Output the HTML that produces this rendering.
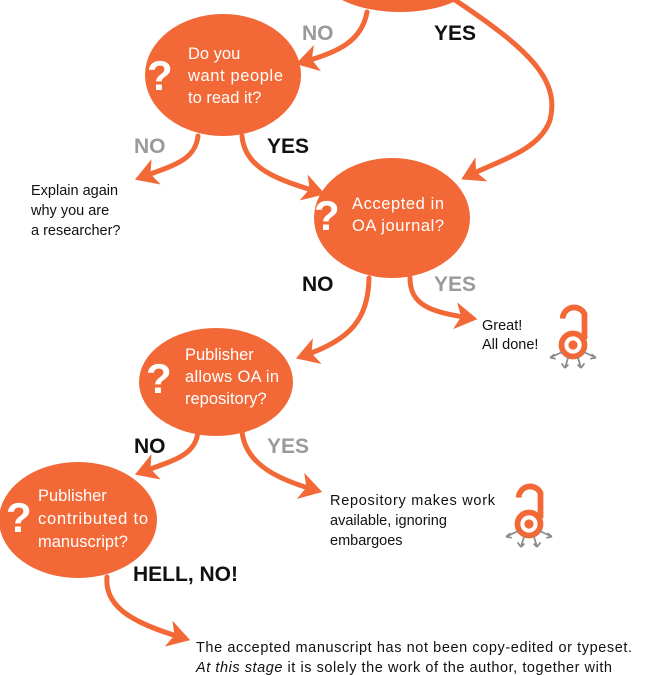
<!DOCTYPE html>
<html><head><meta charset="utf-8"><style>
html,body{margin:0;padding:0;background:#fff;}
svg{display:block;}
.q{font-family:"Liberation Sans",sans-serif;font-weight:bold;fill:#fff;font-size:42px;}
.w{font-family:"Liberation Sans",sans-serif;fill:#fff;font-size:16.5px;}
.t{font-family:"Liberation Sans",sans-serif;fill:#111;font-size:14.5px;}
.lb{font-family:"Liberation Sans",sans-serif;font-weight:bold;font-size:21px;}
.c{fill:none;stroke:#F26836;stroke-width:5;stroke-linecap:round;}
</style></head><body>
<svg width="650" height="675" viewBox="0 0 650 675" xmlns="http://www.w3.org/2000/svg">
<defs>
<marker id="a" markerWidth="6" markerHeight="6" refX="3" refY="3" orient="auto" markerUnits="strokeWidth">
<path d="M0,0.3 L4.5,3 L0,5.7 L1.2,3 Z" fill="#F26836"/>
</marker>
<g id="oa">
<path d="M-9,-23 A10,10 0 0 1 10,-27 L10,-5" fill="none" stroke="#F26836" stroke-width="5"/>
<circle cx="0" cy="0" r="10" fill="none" stroke="#F26836" stroke-width="5"/>
<circle cx="0" cy="0" r="4" fill="#F26836"/>
<g stroke="#8a8a8a" stroke-width="1.5" fill="none">
<path d="M-9,6 L-20,11 M-20,11 l4,-3 M-20,11 l5,1"/>
<path d="M9,6 L20,11 M20,11 l-4,-3 M20,11 l-5,1"/>
<path d="M-4,10 L-7,20 M-7,20 l-3,-4 M-7,20 l3,-3"/>
<path d="M4,10 L7,20 M7,20 l3,-4 M7,20 l-3,-3"/>
</g>
</g>
</defs>

<ellipse cx="400" cy="-22" rx="76" ry="34" fill="#F26836"/>
<ellipse cx="223" cy="75" rx="78" ry="61" fill="#F26836"/>
<ellipse cx="392" cy="218" rx="78" ry="60" fill="#F26836"/>
<ellipse cx="216" cy="382" rx="77" ry="54" fill="#F26836"/>
<ellipse cx="78" cy="520" rx="79" ry="58" fill="#F26836"/>

<path class="c" d="M367,12 C362,40 340,52 303,62" marker-end="url(#a)"/>
<path class="c" d="M455,0 C530,50 560,80 550,120 C540,150 500,160 468,176" marker-end="url(#a)"/>
<path class="c" d="M198,136 C195,160 175,165 142,177" marker-end="url(#a)"/>
<path class="c" d="M242,136 C245,170 280,180 318,192" marker-end="url(#a)"/>
<path class="c" d="M369,278 C368,320 350,340 303,356" marker-end="url(#a)"/>
<path class="c" d="M410,278 C410,305 430,312 470,318" marker-end="url(#a)"/>
<path class="c" d="M198,431 C196,455 175,460 142,472" marker-end="url(#a)"/>
<path class="c" d="M242,431 C245,465 280,480 315,490" marker-end="url(#a)"/>
<path class="c" d="M107,577 C104,610 140,625 183,638" marker-end="url(#a)"/>

<text class="q" x="147" y="90">?</text>
<text class="w" x="188" y="59">Do you</text>
<text class="w" x="188" y="81" textLength="95">want people</text>
<text class="w" x="188" y="103">to read it?</text>

<text class="q" x="314" y="230">?</text>
<text class="w" x="352" y="209" textLength="92">Accepted in</text>
<text class="w" x="352" y="231" textLength="92">OA journal?</text>

<text class="q" x="146" y="393">?</text>
<text class="w" x="185" y="360">Publisher</text>
<text class="w" x="185" y="382" textLength="94">allows OA in</text>
<text class="w" x="185" y="404">repository?</text>

<text class="q" x="6" y="532">?</text>
<text class="w" x="38" y="501">Publisher</text>
<text class="w" x="38" y="524" textLength="110">contributed to</text>
<text class="w" x="38" y="547">manuscript?</text>

<text class="lb" x="302" y="40" fill="#9a9a9a">NO</text>
<text class="lb" x="434" y="40" fill="#111">YES</text>
<text class="lb" x="134" y="153" fill="#9a9a9a">NO</text>
<text class="lb" x="267" y="153" fill="#111">YES</text>
<text class="lb" x="302" y="291" fill="#111">NO</text>
<text class="lb" x="434" y="291" fill="#9a9a9a">YES</text>
<text class="lb" x="134" y="453" fill="#111">NO</text>
<text class="lb" x="267" y="453" fill="#9a9a9a">YES</text>
<text class="lb" x="133" y="581" fill="#111">HELL, NO!</text>

<text class="t" x="31" y="195">Explain again</text>
<text class="t" x="31" y="215">why you are</text>
<text class="t" x="31" y="235">a researcher?</text>

<text class="t" x="482" y="330">Great!</text>
<text class="t" x="482" y="349">All done!</text>

<text class="t" x="330" y="505" textLength="165">Repository makes work</text>
<text class="t" x="330" y="525">available, ignoring</text>
<text class="t" x="330" y="545">embargoes</text>

<text class="t" x="196" y="652" textLength="436">The accepted manuscript has not been copy-edited or typeset.</text>
<text class="t" x="196" y="672" textLength="416"><tspan font-style="italic">At this stage</tspan> it is solely the work of the author, together with</text>

<g transform="translate(573,345) scale(1.15)"><use href="#oa"/></g>
<g transform="translate(529,524) scale(1.15)"><use href="#oa"/></g>
</svg>
</body></html>
